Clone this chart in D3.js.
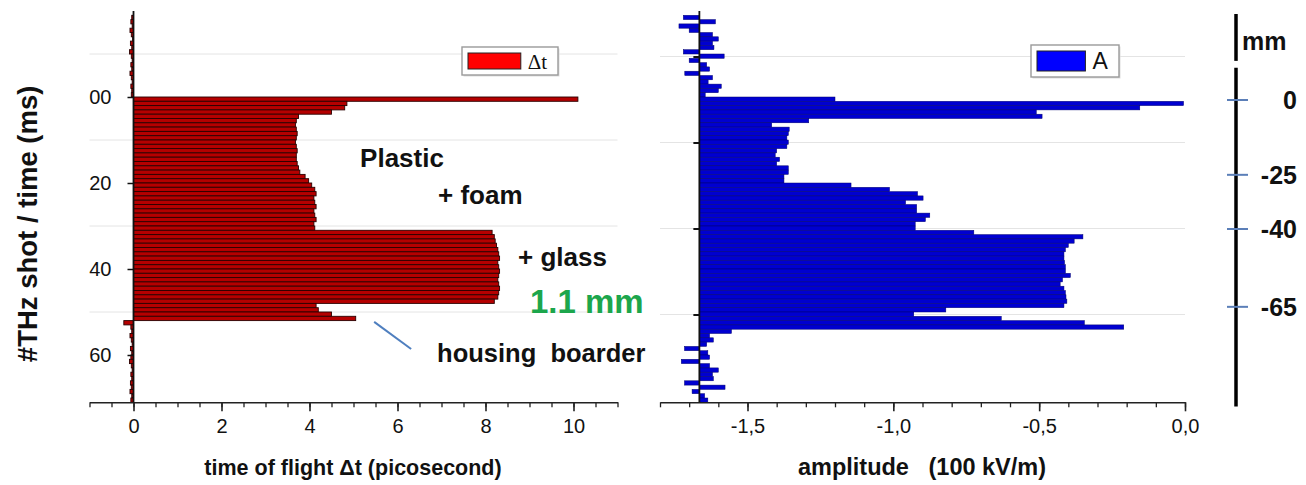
<!DOCTYPE html>
<html>
<head>
<meta charset="utf-8">
<script src="https://cdn.jsdelivr.net/npm/d3@7"></script>
<style>
  body { margin: 0; background: #fff; }
  svg { display: block; font-family: 'Liberation Sans', Arial, sans-serif; }
</style>
</head>
<body>
<svg id="chart" width="1306" height="485"></svg>
<script>
// shot index of the first value in each series (one value per shot)
const firstShot = -19;

// time of flight, picoseconds (shots -19 .. 70)
const deltaT = [
    -0.04, -0.06, -0.03, -0.08, -0.05, -0.02, -0.07, -0.04, -0.09, -0.05,
    -0.03, -0.06, -0.04, -0.08, -0.05, -0.03, -0.06, -0.04, -0.05,
    10.1, 4.85, 4.8, 4.5, 3.75, 3.7, 3.68, 3.7, 3.72, 3.7,
    3.68, 3.7, 3.72, 3.7, 3.7, 3.72, 3.75, 3.78, 3.9, 3.98,
    4.05, 4.12, 4.15, 4.1, 4.12, 4.15, 4.1, 4.12, 4.15, 4.1,
    4.12, 8.15, 8.2, 8.22, 8.25, 8.28, 8.3, 8.32, 8.28, 8.3,
    8.32, 8.3, 8.28, 8.3, 8.32, 8.3, 8.28, 8.2, 4.15, 4.2,
    4.5, 5.05, -0.22,
    -0.06, -0.04, -0.08, -0.05, -0.03, -0.07, -0.04, -0.06, -0.09, -0.05,
    -0.03, -0.06, -0.04, -0.07, -0.05, -0.08, -0.04, -0.06
];

// amplitude, 100 kV/m (shots -19 .. 70)
const amplitude = [
    -1.72, -1.61, -1.735, -1.70, -1.62, -1.60, -1.62, -1.615, -1.72, -1.58,
    -1.70, -1.64, -1.63, -1.715, -1.62, -1.635, -1.59, -1.60, -1.645,
    -1.20, -0.005, -0.155, -0.51, -0.49, -1.29, -1.417, -1.357, -1.36, -1.365,
    -1.36, -1.365, -1.40, -1.405, -1.39, -1.40, -1.36, -1.36, -1.375, -1.375,
    -1.145, -1.013, -0.917, -0.898, -0.958, -0.92, -0.92, -0.875, -0.89, -0.925,
    -0.925, -0.724, -0.35, -0.38, -0.40, -0.41, -0.415, -0.415, -0.413, -0.41,
    -0.41, -0.393, -0.42, -0.428, -0.415, -0.41, -0.408, -0.405, -0.415, -0.82,
    -0.93, -0.63, -0.345, -0.21, -1.555, -1.63,
    -1.617, -1.64, -1.716, -1.636, -1.63, -1.727, -1.63, -1.60, -1.62, -1.617,
    -1.716, -1.577, -1.69, -1.647, -1.636
];
const ampBase = -1.665;

const shotTicks = [0, 20, 40, 60];
const shotTickLabels = ['00', '20', '40', '60'];
const gridShots = [-10, 10, 30, 50];
const dtTicks = [0, 2, 4, 6, 8, 10];
const ampTicks = [-1.5, -1.0, -0.5, 0.0];

// depth scale on the far right
const mmLabels = ['0', '-25', '-40', '-65'];
const mmShots = [0.7, 18.1, 30.7, 48.8];

const svg = d3.select('#chart');

const y = d3.scaleLinear().domain([-20, 71]).range([11, 402.3]);
const xL = d3.scaleLinear().domain([-1, 11]).range([89.5, 617.5]);
const xR = d3.scaleLinear().domain([-1.8, 0]).range([660, 1185]);

function panel(x, values, base, fill, stroke, strokeW, xTicks, minorTicks, fmt, gridOffset) {
    const g = svg.append('g');

    // faint grid
    g.selectAll('line.grid')
        .data(gridShots)
        .enter().append('line')
        .attr('x1', x.range()[0]).attr('x2', x.range()[1])
        .attr('y1', d => y(d) + gridOffset).attr('y2', d => y(d) + gridOffset)
        .attr('stroke', '#e4e4e4')
        .attr('stroke-width', 1);

    g.selectAll('rect.bar')
        .data(values)
        .enter().append('rect')
        .attr('x', d => Math.min(x(base), x(d)))
        .attr('width', d => Math.abs(x(d) - x(base)))
        .attr('y', (d, i) => y(firstShot + i))
        .attr('height', (d, i) => y(firstShot + i + 1) - y(firstShot + i))
        .attr('fill', fill)
        .attr('stroke', stroke)
        .attr('stroke-width', strokeW);

    // x axis: minor + major ticks
    const xAxisY = y.range()[1];
    g.append('g')
        .attr('transform', `translate(0,${xAxisY})`)
        .call(d3.axisBottom(x).tickValues(minorTicks).tickSize(5).tickFormat(''))
        .call(a => a.select('.domain').remove())
        .call(a => a.selectAll('line').attr('stroke', '#222').attr('stroke-width', 1.3));

    g.append('g')
        .attr('transform', `translate(0,${xAxisY})`)
        .call(d3.axisBottom(x).tickValues(xTicks).tickSize(9).tickSizeOuter(0).tickPadding(8).tickFormat(fmt))
        .call(a => a.select('.domain').attr('stroke', '#222').attr('stroke-width', 1.6))
        .call(a => a.selectAll('line').attr('stroke', '#222').attr('stroke-width', 1.6))
        .call(a => a.selectAll('text').attr('font-size', 20).attr('fill', '#111')
            .attr('font-family', "'Liberation Sans', Arial, sans-serif"));

    // y axis line at the bar base
    g.append('line')
        .attr('x1', x(base)).attr('x2', x(base))
        .attr('y1', y.range()[0]).attr('y2', xAxisY)
        .attr('stroke', '#111')
        .attr('stroke-width', 1.8);
    return g;
}

const left = panel(xL, deltaT, 0, '#b50000', '#2a0000', 0.9, dtTicks,
    d3.range(-1, 11.01, 0.5), d => d, 0);
const right = panel(xR, amplitude, ampBase, '#0000d0', '#00006e', 0.5, ampTicks,
    d3.range(-1.8, 0.001, 0.1), d => d.toFixed(1).replace('.', ','), 2.5);

// left y axis ticks and labels
left.append('g')
    .attr('transform', `translate(${xL(0)},0)`)
    .call(d3.axisLeft(y).tickValues(shotTicks).tickSize(6).tickPadding(16)
        .tickFormat((d, i) => shotTickLabels[i]))
    .call(a => a.select('.domain').remove())
    .call(a => a.selectAll('line').attr('stroke', '#111').attr('stroke-width', 1.5))
    .call(a => a.selectAll('text').attr('font-size', 20).attr('fill', '#111')
        .attr('font-family', "'Liberation Sans', Arial, sans-serif"));

// right y axis: unlabelled ticks (sit on the faint grid)
right.append('g')
    .attr('transform', `translate(${xR(ampBase)},2.5)`)
    .call(d3.axisLeft(y).tickValues(gridShots).tickSize(6).tickFormat(''))
    .call(a => a.select('.domain').remove())
    .call(a => a.selectAll('line').attr('stroke', '#111').attr('stroke-width', 2));

// legends
function legend(x0, y0, w, h, color, label, font, size) {
    const g = svg.append('g').attr('transform', `translate(${x0},${y0})`);
    g.append('rect').attr('x', 1.5).attr('y', 1.5).attr('width', w).attr('height', h)
        .attr('fill', '#ddd');
    g.append('rect').attr('width', w).attr('height', h)
        .attr('fill', '#fff').attr('stroke', '#9a9a9a').attr('stroke-width', 1.4);
    g.append('rect').attr('x', 6).attr('y', 6).attr('width', w * 0.55).attr('height', h - 12)
        .attr('fill', color).attr('stroke', '#222').attr('stroke-width', 1);
    g.append('text').attr('x', w * 0.55 + 13).attr('y', h / 2 + size * 0.36)
        .attr('font-family', font).attr('font-size', size).attr('fill', '#111')
        .text(label);
}
legend(462, 47, 96, 28, '#ff0000', 'Δt', "'Liberation Serif', 'Times New Roman', serif", 21);
legend(1031, 45, 88, 32, '#0000ff', 'A', "'Liberation Sans', Arial, sans-serif", 23);

// axis titles
svg.append('text')
    .attr('transform', `translate(37,${y(29.5)}) rotate(-90)`)
    .attr('text-anchor', 'middle')
    .attr('font-size', 27.5).attr('font-weight', 'bold').attr('fill', '#111')
    .text('#THz shot / time (ms)');

svg.append('text')
    .attr('x', 353).attr('y', 475)
    .attr('text-anchor', 'middle')
    .attr('font-size', 21.5).attr('font-weight', 'bold').attr('fill', '#111')
    .text('time of flight Δt (picosecond)');

svg.append('text')
    .attr('x', 922).attr('y', 475)
    .attr('text-anchor', 'middle')
    .attr('font-size', 23.5).attr('font-weight', 'bold').attr('fill', '#111')
    .style('white-space', 'pre')
    .text('amplitude   (100 kV/m)');

// annotations on the Δt panel
const notes = [
    { text: 'Plastic', dt: 5.15, shot: 16.3, size: 26, color: '#111' },
    { text: '+ foam', dt: 6.92, shot: 24.9, size: 26, color: '#111' },
    { text: '+ glass', dt: 8.74, shot: 39.3, size: 26, color: '#111' },
    { text: '1.1 mm', dt: 9.01, shot: 50.2, size: 33, color: '#1ca64c' },
    { text: 'housing  boarder', dt: 6.9, shot: 61.6, size: 25.5, color: '#111' }
];
svg.selectAll('text.note')
    .data(notes)
    .enter().append('text')
    .attr('x', d => xL(d.dt))
    .attr('y', d => y(d.shot))
    .attr('font-size', d => d.size)
    .attr('font-weight', 'bold')
    .attr('fill', d => d.color)
    .style('white-space', 'pre')
    .text(d => d.text);

svg.append('line')
    .attr('x1', xL(5.47)).attr('y1', y(52.3))
    .attr('x2', xL(6.31)).attr('y2', y(58.6))
    .attr('stroke', '#4f7fbf')
    .attr('stroke-width', 2);

// depth scale (mm)
const mmX = 1236;
const mm = svg.append('g');
mm.append('line')
    .attr('x1', mmX).attr('x2', mmX)
    .attr('y1', y(-19.3)).attr('y2', y(-8.4))
    .attr('stroke', '#000').attr('stroke-width', 3.5);
mm.append('line')
    .attr('x1', mmX).attr('x2', mmX)
    .attr('y1', y(-6.8)).attr('y2', y(72))
    .attr('stroke', '#000').attr('stroke-width', 3.5);
mm.append('text')
    .attr('x', mmX + 6).attr('y', y(-11))
    .attr('font-size', 25).attr('font-weight', 'bold').attr('fill', '#111')
    .text('mm');
mm.selectAll('line.tick')
    .data(mmShots)
    .enter().append('line')
    .attr('x1', mmX - 9).attr('x2', mmX + 12)
    .attr('y1', d => y(d)).attr('y2', d => y(d))
    .attr('stroke', '#5b7fb8').attr('stroke-width', 2);
mm.selectAll('text.lab')
    .data(mmShots)
    .enter().append('text')
    .attr('x', 1297)
    .attr('y', d => y(d) + 9)
    .attr('text-anchor', 'end')
    .attr('font-size', 25).attr('font-weight', 'bold').attr('fill', '#111')
    .text((d, i) => mmLabels[i]);
</script>
</body>
</html>
